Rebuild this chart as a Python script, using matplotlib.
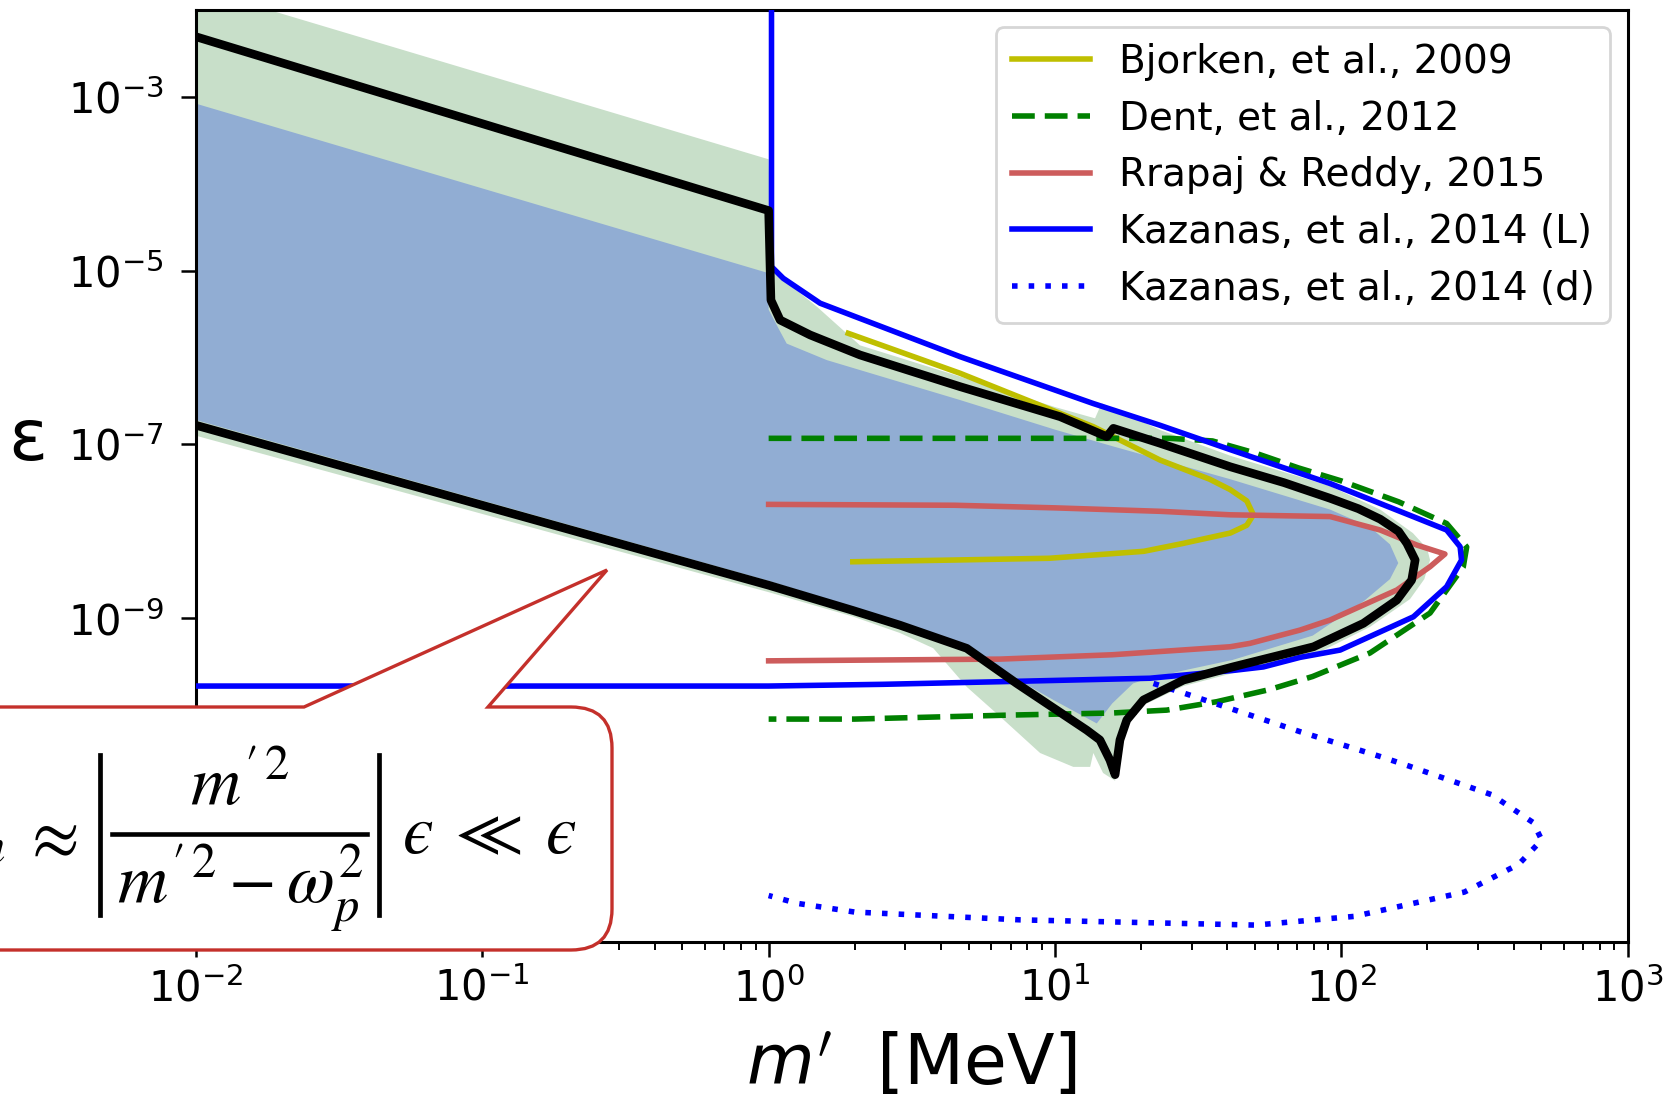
import numpy as np
import matplotlib
matplotlib.use("Agg")
import matplotlib.pyplot as plt
from matplotlib.path import Path
from matplotlib.patches import PathPatch
from matplotlib.lines import Line2D
from matplotlib.ticker import FixedLocator, LogLocator, NullLocator, LogFormatterSciNotation

# --- figure size in pixels ---
W, H = 1668, 1096
DPI = 100

# --- curves: log10(m' / MeV) and log10(eps) ---
black_lm = [-2.0, 0.0, 0.008, 0.040, 0.145, 0.319, 0.669, 1.018, 1.181, 1.204, 1.367, 1.612,
            1.80, 1.961, 2.06, 2.136, 2.20, 2.229, 2.258, 2.246, 2.194, 2.077, 1.903, 1.623, 1.449, 1.309, 1.251,
            1.227, 1.210, 1.192, 1.157, 1.111, 0.866, 0.692, 0.459, 0.294, 0.0, -2.0]
black_le = [-2.31, -4.31, -5.34, -5.569, -5.741, -5.971, -6.336, -6.681, -6.911, -6.815, -6.987, -7.257,
            -7.44, -7.62, -7.74, -7.86, -8.0, -8.138, -8.330, -8.560, -8.791, -9.059, -9.328, -9.558, -9.711,
            -9.94, -10.17, -10.40, -10.80, -10.632, -10.40, -10.287, -9.749, -9.346, -9.08, -8.91, -8.62, -6.78]

blue_fill_lm = [-2.0, 0.0, 0.0, 0.04, 0.063, 0.203, 0.669, 1.0, 1.2, 1.612, 1.961, 2.10, 2.17, 2.199,
                2.17, 2.08, 1.9, 1.62, 1.45, 1.30, 1.273, 1.2, 1.146, 1.0, 0.866, 0.692, 0.459,
                0.294, 0.0, -2.0]
blue_fill_le = [-3.08, -5.03, -5.45, -5.70, -5.84, -6.03, -6.49, -6.83, -7.02, -7.40, -7.75, -7.95, -8.15, -8.365,
                -8.55, -8.80, -9.2, -9.48, -9.60, -9.72, -9.75, -9.98, -10.21, -9.95, -9.70, -9.30, -9.04,
                -8.87, -8.57, -6.72]

green_fill_lm = [-2.0, 0.0, 0.01, 0.05, 0.17, 0.319, 0.669, 1.0, 1.14, 1.163, 1.20, 1.367, 1.612, 1.961,
                 2.136, 2.25, 2.30, 2.31, 2.29, 2.24, 2.10, 1.90, 1.623, 1.449, 1.309, 1.251, 1.227,
                 1.210, 1.168, 1.134, 1.123, 1.064, 0.948, 0.808, 0.692, 0.575, 0.459, 0.294, 0.0, -2.0]
green_fill_le = [-1.75, -3.72, -5.0, -5.10, -5.42, -5.86, -6.22, -6.57, -6.70, -6.527, -6.58, -6.834, -7.13, -7.48,
                 -7.75, -8.02, -8.2, -8.33, -8.55, -8.78, -9.10, -9.43, -9.63, -9.78, -10.0, -10.22, -10.47,
                 -10.87, -10.78, -10.55, -10.71, -10.71, -10.55, -10.13, -9.79, -9.345, -9.17, -8.98, -8.7, -6.9]

bjorken_lm = [0.278, 0.669, 1.134, 1.367, 1.54, 1.612, 1.67, 1.693, 1.67, 1.612, 1.446, 1.31, 0.98, 0.65, 0.294]
bjorken_le = [-5.722, -6.182, -6.796, -7.18, -7.40, -7.52, -7.65, -7.81, -7.93, -8.02, -8.14, -8.23, -8.31, -8.33, -8.35]

dent_lm = [0.0, 1.40, 1.55, 1.70, 1.85, 2.0, 2.2, 2.368, 2.438, 2.426, 2.31, 2.1, 1.9, 1.75, 1.565,
           1.39, 1.2, 0.843, 0.3, 0.0]
dent_le = [-6.93, -6.93, -6.96, -7.10, -7.27, -7.42, -7.66, -7.91, -8.18, -8.41, -8.94, -9.40, -9.67, -9.82, -9.96,
           -10.057, -10.09, -10.114, -10.16, -10.16]

rrapaj_lm = [0.0, 0.65, 1.0, 1.37, 1.612, 1.961, 2.136, 2.264, 2.362, 2.310, 2.194, 1.961, 1.856,
             1.681, 1.612, 1.2, 0.808, 0.4, 0.0]
rrapaj_le = [-7.69, -7.70, -7.73, -7.77, -7.81, -7.83, -7.985, -8.158, -8.261, -8.407, -8.675, -9.02, -9.136,
             -9.289, -9.328, -9.42, -9.47, -9.48, -9.49]

kaz_L_lm = [0.01, 0.01, 0.051, 0.180, 0.669, 1.134, 1.367, 1.612, 1.961, 2.252, 2.368, 2.415, 2.420,
            2.368, 2.252, 1.996, 1.856, 1.728, 1.623, 1.332, 0.808, 0.4, 0.0, -2.0]
kaz_L_le = [-1.5, -4.955, -5.089, -5.376, -5.991, -6.53, -6.78, -7.06, -7.45, -7.832, -7.985, -8.177, -8.330,
            -8.637, -8.983, -9.366, -9.45, -9.56, -9.60, -9.69, -9.73, -9.76, -9.78, -9.78]

kaz_d_lm = [1.344, 1.449, 1.623, 1.856, 2.145, 2.236, 2.525, 2.67, 2.70, 2.62, 2.43, 2.045, 1.70,
            0.88, 0.3, 0.1, 0.0]
kaz_d_le = [-9.75, -9.86, -10.05, -10.305, -10.60, -10.70, -11.03, -11.35, -11.55, -11.83, -12.15, -12.43,
            -12.53, -12.47, -12.38, -12.28, -12.19]

labels = ["Bjorken, et al., 2009", "Dent, et al., 2012", "Rrapaj & Reddy, 2015",
          "Kazanas, et al., 2014 (L)", "Kazanas, et al., 2014 (d)"]

y_ticks = [1e-9, 1e-7, 1e-5, 1e-3]


def p10(a):
    return 10.0 ** np.asarray(a)


fig = plt.figure(figsize=(W / DPI, H / DPI), dpi=DPI)
ax = fig.add_axes([196 / W, 1 - 941.6 / H, 1431.6 / W, 931.8 / H])

# --- shaded regions ---
ax.fill(p10(green_fill_lm), p10(green_fill_le), color="#c8dfc9", lw=0, zorder=1)
ax.fill(p10(blue_fill_lm), p10(blue_fill_le), color="#91add3", lw=0, zorder=1.5)

# --- bound curves ---
lw = 4.0
ax.plot(p10(bjorken_lm), p10(bjorken_le), color="y", lw=lw, zorder=3, label=labels[0])
ax.plot(p10(dent_lm), p10(dent_le), color="g", lw=lw, dashes=[4.1, 1.8], zorder=3, label=labels[1])
ax.plot(p10(rrapaj_lm), p10(rrapaj_le), color="indianred", lw=lw, zorder=3, label=labels[2])
ax.plot(p10(kaz_L_lm), p10(kaz_L_le), color="b", lw=lw, zorder=3, label=labels[3])
ax.plot(p10(kaz_d_lm), p10(kaz_d_le), color="b", lw=lw, dashes=[1.0, 2.0], zorder=3, label=labels[4])
ax.plot(p10(black_lm), p10(black_le), color="k", lw=6.2, zorder=4)

ax.set_xscale("log")
ax.set_yscale("log")
ax.set_xlim(1e-2, 1e3)
ax.set_ylim(10 ** -12.72, 10 ** -2.0)

ax.xaxis.set_major_locator(LogLocator(base=10, numticks=20))
ax.xaxis.set_minor_locator(LogLocator(base=10, subs=np.arange(2, 10), numticks=20))
ax.yaxis.set_major_locator(FixedLocator(y_ticks))
ax.yaxis.set_major_formatter(LogFormatterSciNotation())
ax.yaxis.set_minor_locator(NullLocator())

ax.tick_params(which="major", length=11, width=1.8, labelsize=30)
ax.tick_params(axis="x", which="major", pad=8)
ax.tick_params(axis="y", which="major", pad=12)
ax.tick_params(which="minor", length=6, width=1.4)
for s in ax.spines.values():
    s.set_linewidth(2.2)

leg = ax.legend(loc="upper right", fontsize=28, handlelength=2.0, handletextpad=0.75,
                labelspacing=0.48, borderpad=0.4, borderaxespad=0.45, fancybox=True)
leg.get_frame().set_linewidth(2)
leg.get_frame().set_edgecolor("0.8")

# --- axis labels ---
fig.text(912 / W, 11 / H, r"$m'$  [MeV]", fontsize=50, ha="center", va="baseline")
fig.text(28 / W, 1 - 440 / H, "ε", fontsize=52, ha="center", va="center")


# --- callout box (figure pixels, y from top) ---
def px(x, y):
    return (x / W, 1 - y / H)


r = 41
top, bot, right = 707, 950, 612
verts = [px(-30, top), px(304, top), px(607, 570), px(488, top), px(right - r, top),
         px(right, top), px(right, top + r), px(right, bot - r),
         px(right, bot), px(right - r, bot), px(-30, bot), px(-30, top)]
codes = [Path.MOVETO, Path.LINETO, Path.LINETO, Path.LINETO, Path.LINETO,
         Path.CURVE3, Path.CURVE3, Path.LINETO,
         Path.CURVE3, Path.CURVE3, Path.LINETO, Path.CLOSEPOLY]
callout = PathPatch(Path(verts, codes), transform=fig.transFigure, facecolor="white",
                    edgecolor="#c4302b", lw=2.4, zorder=10, joinstyle="miter")
fig.add_artist(callout)

fs = 50
mkw = dict(fontsize=fs, math_fontfamily="stix", zorder=11)
fig.text(*px(6, 853), "$\u03f5_{m}$", ha="right", va="baseline", **mkw)
fig.text(*px(49, 837), r"$\approx$", ha="center", va="center", **mkw)
fig.text(*px(240, 805), r"$m^{\prime\,2}$", ha="center", va="baseline", **mkw)
fig.text(*px(240, 903), r"$m^{\prime\,2}-\omega_p^2$", ha="center", va="baseline", **mkw)
fig.text(*px(402, 853), "$\u03f5\\;\\ll\\;\u03f5$", ha="left", va="baseline", **mkw)
for xs, ys, w in [((112, 367), (834, 834), 3.3), ((100, 100), (755, 915), 3.4), ((379, 379), (755, 915), 3.4)]:
    p0, p1 = px(xs[0], ys[0]), px(xs[1], ys[1])
    fig.add_artist(Line2D([p0[0], p1[0]], [p0[1], p1[1]], transform=fig.transFigure,
                          color="k", lw=w, zorder=11))

fig.savefig("out.png", dpi=DPI)
